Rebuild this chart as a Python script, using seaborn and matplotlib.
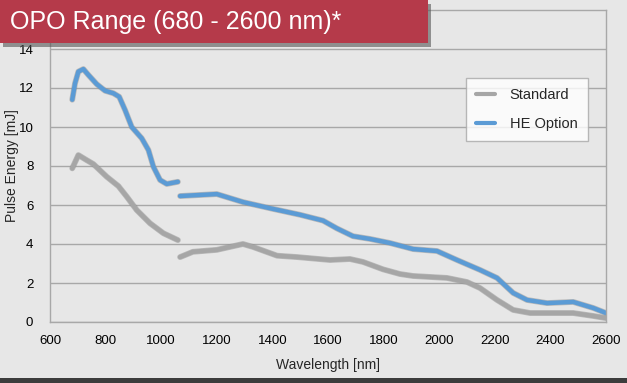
import pandas as pd
import matplotlib.pyplot as plt
import matplotlib.patches as mpatches
import matplotlib.patheffects as pe
from matplotlib.lines import Line2D
import seaborn as sns

# values (wavelength nm, pulse energy mJ)
std_wl_1 = [680, 702, 732, 756, 804, 846, 876, 912, 960, 1008, 1060]
std_val_1 = [7.88, 8.56, 8.3, 8.1, 7.45, 6.97, 6.43, 5.74, 5.06, 4.55, 4.2]
std_wl_2 = [1068, 1114, 1200, 1247, 1294, 1330, 1417, 1489, 1607, 1679, 1726, 1798,
            1859, 1906, 2028, 2100, 2147, 2208, 2266, 2327, 2482, 2554, 2600]
std_val_2 = [3.33, 3.6, 3.7, 3.85, 4.0, 3.85, 3.4, 3.33, 3.18, 3.23, 3.08, 2.7,
             2.46, 2.36, 2.26, 2.05, 1.74, 1.13, 0.62, 0.46, 0.46, 0.31, 0.2]

he_wl_1 = [680, 690, 702, 720, 738, 768, 798, 828, 849, 870, 894, 930, 954, 972, 996, 1020, 1060]
he_val_1 = [11.4, 12.24, 12.84, 12.97, 12.67, 12.2, 11.86, 11.73, 11.55, 10.87, 10.0,
            9.42, 8.82, 7.96, 7.28, 7.08, 7.19]
he_wl_2 = [1068, 1200, 1294, 1402, 1499, 1582, 1632, 1690, 1751, 1823, 1906, 1992,
           2064, 2147, 2208, 2266, 2316, 2388, 2482, 2554, 2600]
he_val_2 = [6.46, 6.56, 6.15, 5.8, 5.5, 5.2, 4.8, 4.4, 4.26, 4.05, 3.74, 3.64,
            3.18, 2.67, 2.26, 1.49, 1.13, 0.97, 1.03, 0.72, 0.46]

series_names = ["Standard", "HE Option"]
x_ticks = list(range(600, 2601, 200))
y_ticks = list(range(0, 15, 2))

#Building a long table, one row per point, segment column keeps the gap at ~1064 nm
rows = []
for name, seg, wl, val in [("Standard", 1, std_wl_1, std_val_1), ("Standard", 2, std_wl_2, std_val_2),
                           ("HE Option", 1, he_wl_1, he_val_1), ("HE Option", 2, he_wl_2, he_val_2)]:
    for w, v in zip(wl, val):
        rows.append({"series": name, "segment": f"{name}-{seg}", "wl": w, "energy": v})
df = pd.DataFrame(rows)

sns.set_style("white")
plt.rcParams['font.family'] = ['Liberation Sans', 'DejaVu Sans']

bg = "#e7e7e7"
colors = {"Standard": "#a6a6a6", "HE Option": "#5b9bd5"}

fig = plt.figure(figsize=(6.27, 3.83), dpi=100, facecolor=bg)
ax = fig.add_axes([50 / 627, 1 - 322 / 383, 556 / 627, 312 / 383])
ax.set_facecolor(bg)

sns.lineplot(data=df, x="wl", y="energy", hue="series", units="segment", estimator=None,
             palette=colors, hue_order=series_names, linewidth=3.2, legend=False, ax=ax,
             solid_capstyle="round", solid_joinstyle="round")
for line in ax.get_lines():
    line.set_path_effects([pe.Stroke(linewidth=4.2, foreground="#8c8c8c", alpha=0.5), pe.Normal()])

ax.set_xlim(600, 2600)
ax.set_ylim(0, 16)
ax.set_xticks(x_ticks)
ax.set_yticks(y_ticks)
ax.tick_params(axis="x", length=0, labelsize=9.5, colors="black", pad=9)
ax.tick_params(axis="y", length=0, labelsize=9.5, colors="black", pad=12)
ax.grid(axis="y", color="#a8a8a8", linewidth=1)
ax.set_axisbelow(True)
for side in ["left", "bottom", "right", "top"]:
    ax.spines[side].set_color("#a8a8a8")
    ax.spines[side].set_linewidth(1)
ax.set_xlabel("Wavelength [nm]", fontsize=10, labelpad=8)
ax.set_ylabel("Pulse Energy [mJ]", fontsize=10)
ax.yaxis.set_label_coords(-31 / 556, 0.5)

handles = [Line2D([], [], color=colors[n], linewidth=3) for n in series_names]
leg = ax.legend(handles, series_names, loc="upper left", bbox_to_anchor=(416 / 556, (322 - 78) / 312),
                borderaxespad=0, frameon=True, fontsize=10.5, handlelength=1.3, handletextpad=1.0,
                borderpad=0.7, labelspacing=1.0, fancybox=False)
leg.get_frame().set_facecolor("white")
leg.get_frame().set_edgecolor("#a8a8a8")

#Red title banner with a soft shadow
banner = mpatches.Rectangle((0, 1 - 43 / 383), 428 / 627, 43 / 383, transform=fig.transFigure,
                            facecolor="#b53a4a", edgecolor="none", zorder=10,
                            path_effects=[pe.SimplePatchShadow(offset=(2, -3), shadow_rgbFace="#555555", alpha=0.6),
                                          pe.Normal()])
fig.add_artist(banner)
fig.text(10 / 627, 1 - 22 / 383, "OPO Range (680 - 2600 nm)*", color="white", fontsize=18,
         va="center", ha="left", zorder=11)

#Dark strip along the bottom edge
fig.add_artist(mpatches.Rectangle((0, 0), 1, 5 / 383, transform=fig.transFigure,
                                  facecolor="#3c3c3c", edgecolor="none", zorder=10))

fig.savefig("out.png", dpi=100, facecolor=bg)
